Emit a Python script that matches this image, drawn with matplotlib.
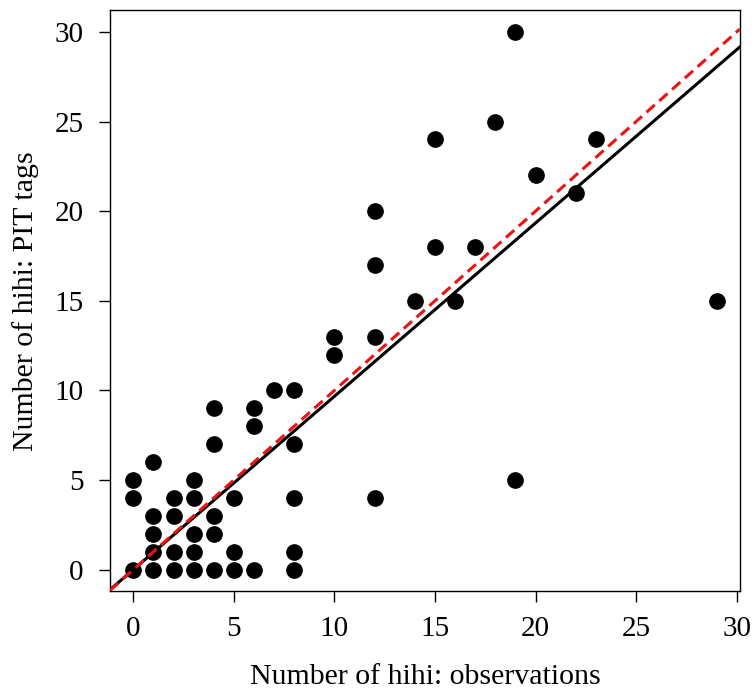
import matplotlib.pyplot as plt
import numpy as np

plt.rcParams['font.family'] = ['Liberation Serif', 'DejaVu Serif']

# observations vs PIT tag counts
obs = [0, 0, 0,
       1, 1, 1, 1, 1,
       2, 2, 2, 2,
       3, 3, 3, 3, 3,
       4, 4, 4, 4, 4,
       5, 5, 5,
       6, 6, 6,
       7,
       8, 8, 8, 8, 8,
       10, 10,
       12, 12, 12, 12,
       14, 15, 15, 16, 17, 18, 19, 19, 20, 22, 23, 29]
pit = [0, 4, 5,
       0, 1, 2, 3, 6,
       0, 1, 3, 4,
       0, 1, 2, 4, 5,
       0, 2, 3, 7, 9,
       0, 1, 4,
       0, 8, 9,
       10,
       0, 1, 4, 7, 10,
       12, 13,
       4, 13, 17, 20,
       15, 18, 24, 15, 18, 25, 5, 30, 22, 21, 24, 15]

# fitted regression (solid)
fit_intercept = 0.0
fit_slope = 0.967

fig = plt.figure(figsize=(7.55, 6.93), dpi=100)
ax = fig.add_axes([0.1457, 0.147, 0.8343, 0.838])

ax.plot(obs, pit, 'o', color='black', markersize=11, zorder=2)

ax.axline((0, fit_intercept), slope=fit_slope, color='black', lw=2.2, zorder=3)
ax.axline((0, 0), slope=1, color='#ee1111', lw=2.2, ls=(0, (3.6, 2)), zorder=4)

ax.set_xlim(-1.16, 30.16)
ax.set_ylim(-1.2, 31.2)
ax.set_xticks(np.arange(0, 31, 5))
ax.set_yticks(np.arange(0, 31, 5))
ax.tick_params(direction='out', length=8, width=1, labelsize=21)
ax.tick_params(axis='x', pad=10)
ax.tick_params(axis='y', pad=11)
for s in ax.spines.values():
    s.set_linewidth(1)

ax.set_xlabel('Number of hihi: observations', fontsize=21.5, labelpad=16)
ax.set_ylabel('Number of hihi: PIT tags', fontsize=21.5, labelpad=11)

fig.savefig('out.png', dpi=100)
